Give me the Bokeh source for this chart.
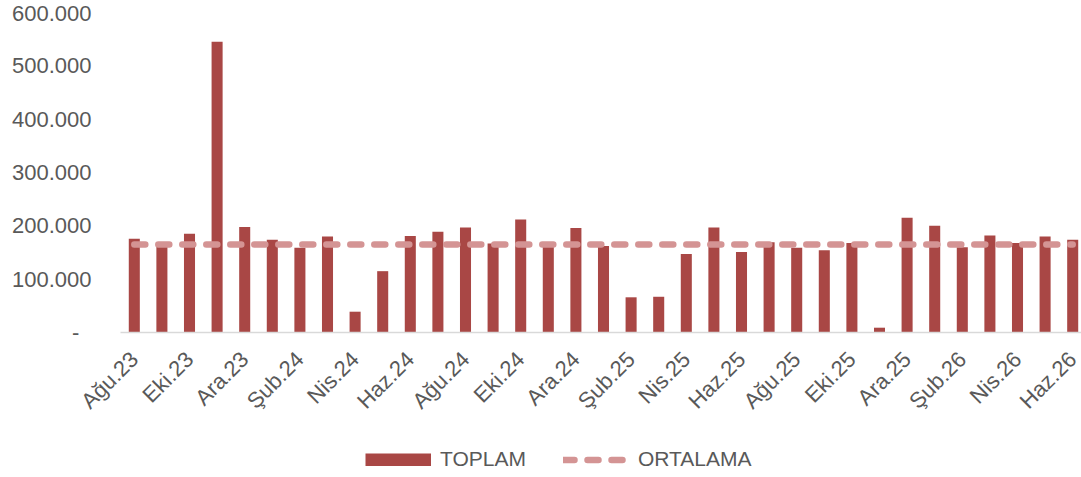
import math
from bokeh.plotting import figure
from bokeh.models import ColumnDataSource, Range1d, FixedTicker, Legend, LegendItem
from bokeh.embed import file_html
from bokeh.resources import INLINE

months = ["Ağu.23", "Eyl.23", "Eki.23", "Kas.23", "Ara.23", "Oca.24", "Şub.24",
          "Mar.24", "Nis.24", "May.24", "Haz.24", "Tem.24", "Ağu.24", "Eyl.24",
          "Eki.24", "Kas.24", "Ara.24", "Oca.25", "Şub.25", "Mar.25", "Nis.25",
          "May.25", "Haz.25", "Tem.25", "Ağu.25", "Eyl.25", "Eki.25", "Kas.25",
          "Ara.25", "Oca.26", "Şub.26", "Mar.26", "Nis.26", "May.26", "Haz.26"]

toplam = [176000, 165000, 185000, 545000, 198000, 174000, 159000, 180000, 39000,
          115000, 181000, 189000, 197000, 167000, 212000, 169000, 196000, 162000,
          66000, 67000, 147000, 197000, 151000, 169000, 159000, 154000, 168000,
          9000, 215000, 200000, 160000, 182000, 168000, 180000, 174000]

ortalama_value = 165000
ortalama = [ortalama_value] * len(months)

y_ticks = [0, 100000, 200000, 300000, 400000, 500000, 600000]
y_tick_labels = ["-\u00a0\u00a0", "100.000", "200.000", "300.000", "400.000", "500.000", "600.000"]

idx = list(range(len(months)))
src = ColumnDataSource(dict(x=idx, toplam=toplam, ortalama=ortalama, month=months))

TEXT = "#595959"
FONT = "Liberation Sans"
BAR = "#A94745"
AVG = "#D49494"

# The frame covers the whole figure; the axes are pinned inside it.
# x: category -0.5 sits at pixel 120, one category = 27.6 px
# y: value 0 sits at pixel 332, 600.000 at pixel 12
X_START = -0.5 - 120 / 27.6
X_END = -0.5 + 961 / 27.6
Y_MAX = 622500
Y_MIN = -271875

p = figure(width=1081, height=477, output_backend="svg", toolbar_location=None,
           x_range=Range1d(X_START, X_END), y_range=Range1d(Y_MIN, Y_MAX),
           min_border_left=0, min_border_right=0, min_border_top=0, min_border_bottom=0)
p.outline_line_color = None
p.xgrid.visible = False
p.ygrid.visible = False
p.background_fill_color = "white"
p.border_fill_color = "white"

bars = p.vbar(x="x", top="toplam", bottom=0, width=0.4, source=src,
              fill_color=BAR, line_color=None)
line = p.line(x="x", y="ortalama", source=src, line_color=AVG, line_width=6.5,
              line_dash="11 13", line_cap="round")

# legend swatch for the bars: a solid block; its own line lies outside the view
swatch_src = ColumnDataSource(dict(x=[0, 1], y=[2 * Y_MAX, 2 * Y_MAX]))
bar_swatch = p.line(x="x", y="y", source=swatch_src, line_color=BAR,
                    line_width=13, line_cap="butt")

# y axis, pinned at the left edge of the category area
p.yaxis.fixed_location = -0.5
p.yaxis.ticker = FixedTicker(ticks=y_ticks)
p.yaxis.major_label_overrides = {t: l for t, l in zip(y_ticks, y_tick_labels)}
p.yaxis.axis_line_color = None
p.yaxis.major_tick_line_color = None
p.yaxis.minor_tick_line_color = None
p.yaxis.major_tick_out = 0
p.yaxis.major_tick_in = 0
p.yaxis.major_label_standoff = 29
p.yaxis.major_label_text_font = FONT
p.yaxis.major_label_text_font_size = "22px"
p.yaxis.major_label_text_color = TEXT

# x axis, pinned at value 0
x_ticks = idx[::2]
p.xaxis.fixed_location = 0
p.xaxis.bounds = (-0.5, X_END)
p.xaxis.ticker = FixedTicker(ticks=x_ticks)
p.xaxis.major_label_overrides = {i: months[i] for i in x_ticks}
p.xaxis.major_label_orientation = math.pi / 4
p.xaxis.axis_line_color = "#D9D9D9"
p.xaxis.axis_line_width = 1.5
p.xaxis.major_tick_line_color = None
p.xaxis.minor_tick_line_color = None
p.xaxis.major_tick_out = 0
p.xaxis.major_tick_in = 0
p.xaxis.major_label_standoff = 23
p.xaxis.major_label_text_font = FONT
p.xaxis.major_label_text_font_size = "22px"
p.xaxis.major_label_text_color = TEXT

legend = Legend(items=[LegendItem(label="TOPLAM", renderers=[bar_swatch]),
                       LegendItem(label="ORTALAMA", renderers=[line])],
                orientation="horizontal", location=(365, 6),
                padding=0, margin=0, spacing=37, label_standoff=9,
                glyph_width=66, glyph_height=13,
                label_text_font=FONT, label_text_font_size="21px", label_text_color=TEXT,
                border_line_color=None, background_fill_alpha=0)
p.add_layout(legend, "center")

open("out.html", "w").write(file_html(p, INLINE))
